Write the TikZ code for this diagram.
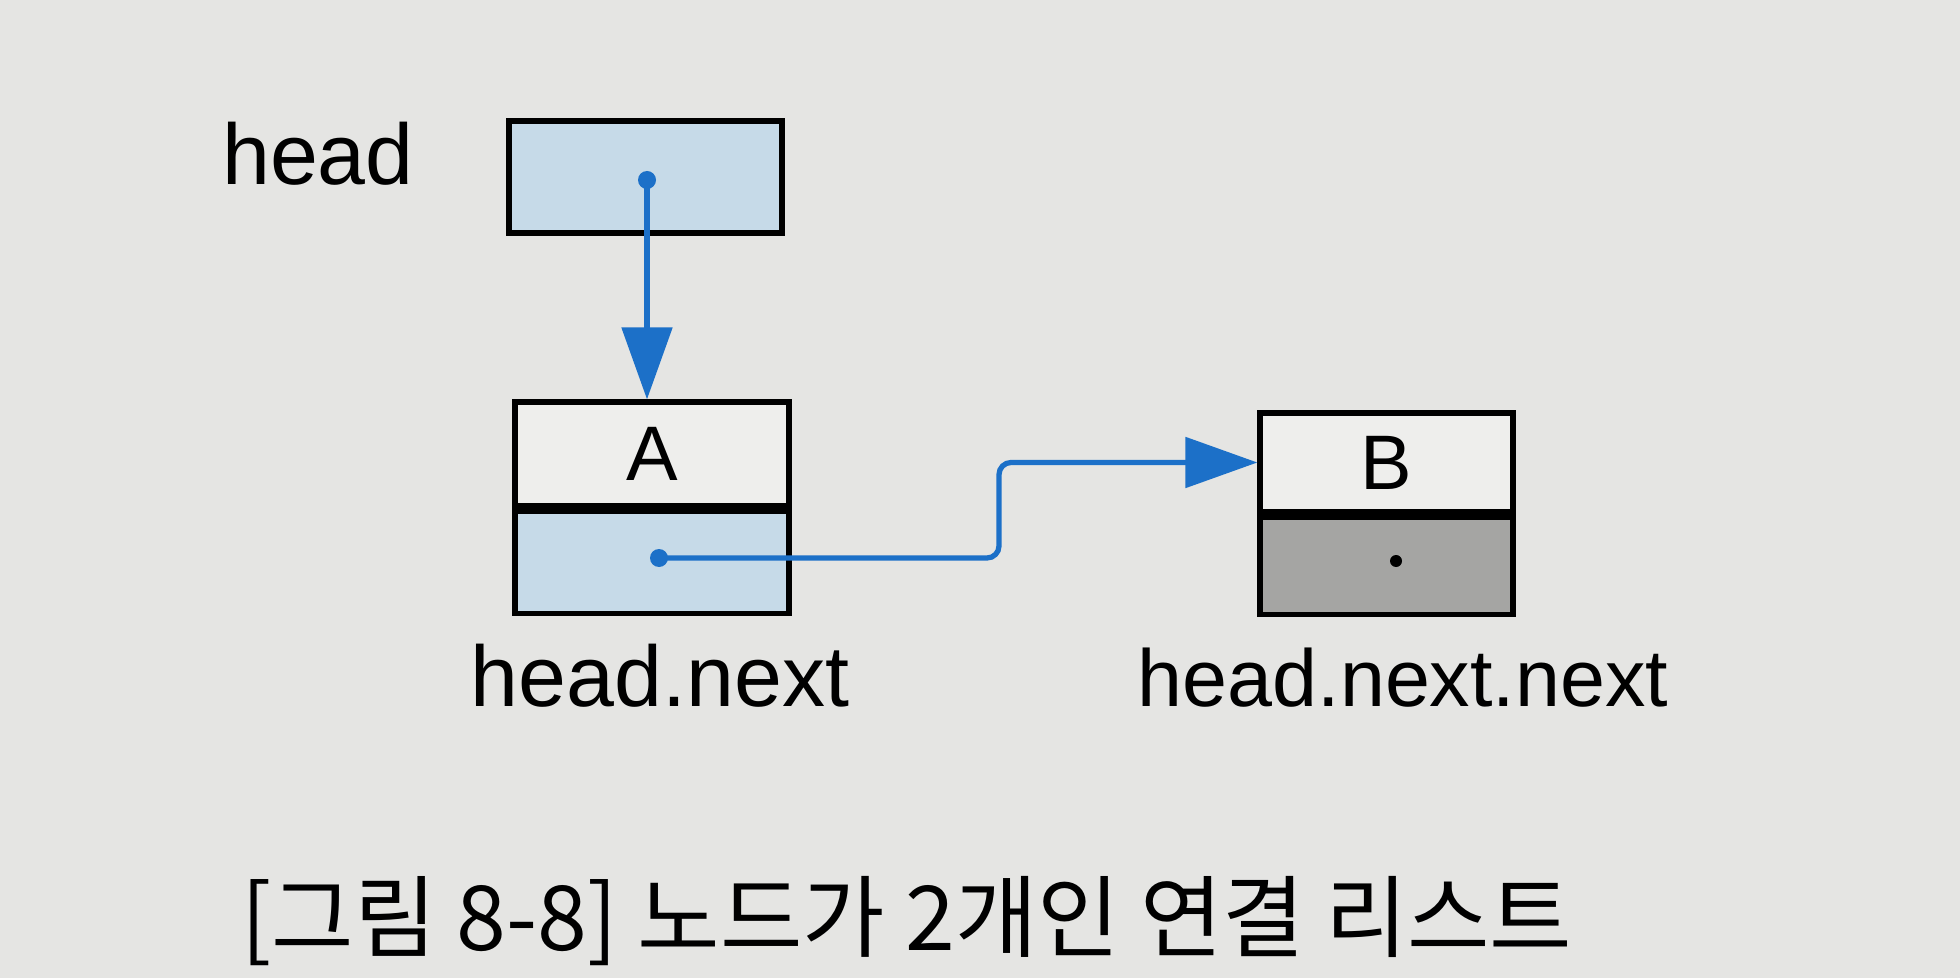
\documentclass[tikz,border=0pt]{standalone}
\usepackage{fontspec}
\setmainfont{Liberation Sans}
\newfontfamily\krfont{Noto Sans CJK KR}
\usepackage{tikz}
\usetikzlibrary{arrows.meta}

\definecolor{paper}{RGB}{229,229,227}
\definecolor{cellblue}{RGB}{198,218,232}
\definecolor{cellgrey}{RGB}{165,165,163}
\definecolor{cellwhite}{RGB}{238,238,236}
\definecolor{linkblue}{RGB}{28,112,200}

\tikzset{
  cell/.style={draw=black, line width=1.5pt, inner sep=0pt,
    font=\fontsize{22}{24}\selectfont},
  link/.style={draw=linkblue, line width=1.5pt,
    -{Triangle[length=0.72cm,width=0.5cm]}},
  lbl/.style={font=\fontsize{24.5}{28}\selectfont, anchor=base}
}

\begin{document}
\begin{tikzpicture}
\fill[paper] (0,0) rectangle (19.6,9.78);
\useasboundingbox (0,0) rectangle (19.6,9.78);

\node[cell, fill=cellblue, minimum width=2.73cm, minimum height=1.12cm] (headbox) at (6.455,8.01) {};
\node[cell, fill=cellwhite, minimum width=2.74cm, minimum height=1.04cm] (adata) at (6.52,5.24) {A};
\node[cell, fill=cellblue, minimum width=2.74cm, minimum height=1.02cm, anchor=north] (anext) at (adata.south) {};
\node[cell, fill=cellwhite, minimum width=2.53cm, minimum height=0.99cm] (bdata) at (13.865,5.155) {B};
\node[cell, fill=cellgrey, minimum width=2.53cm, minimum height=0.97cm, anchor=north] (bnext) at (bdata.south) {};

\node[lbl] (headlbl) at (3.18,7.93) {head};
\node[lbl] (alabel) at (6.60,2.72) {head.next};
\node[lbl, font=\fontsize{23}{28}\selectfont] (blabel) at (14.03,2.72) {head.next.next};

\coordinate (hp) at (6.47,7.98);
\coordinate (ap) at (6.59,4.20);
\coordinate (bp) at (13.96,4.17);
\coordinate (bend) at (9.99,4.20);

\fill[linkblue] (hp) circle [radius=.09];
\fill[linkblue] (ap) circle [radius=.09];
\fill[black] (bp) circle [radius=.06];

\draw[link] (hp) -- (hp |- adata.north);
\draw[link, rounded corners=.12cm] (ap) -- (bend) |- (bdata.west);

\node[font=\krfont\fontsize{25.5}{30}\selectfont] (caption) at (9.07,0.57) {[그림 8-8] 노드가 2개인 연결 리스트};
\end{tikzpicture}
\end{document}
